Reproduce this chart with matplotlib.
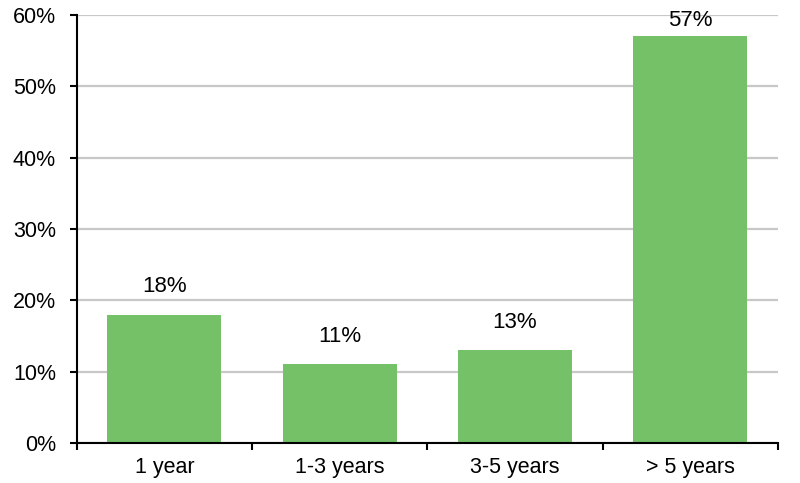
import matplotlib.pyplot as plt
from matplotlib.ticker import FixedLocator, PercentFormatter

categories = ['1 year', '1-3 years', '3-5 years', '> 5 years']
values = [18, 11, 13, 57]

plt.rcParams['font.family'] = ['Liberation Sans Narrow', 'Liberation Sans', 'DejaVu Sans']

fig = plt.figure(figsize=(8, 4.83), dpi=100)
ax = fig.add_axes([0.096, 0.083, 0.8765, 0.886])

x = range(len(categories))
bars = ax.bar(x, values, width=0.65, color='#75c168', zorder=3)

# labels sit above the bars, but are kept inside the plot area like Excel does
for xi, v in zip(x, values):
    ax.text(xi, min(v + 2.4, 57.7), f'{v}%', ha='center', va='bottom',
            fontsize=16, zorder=5)

ax.set_xlim(-0.5, len(categories) - 0.5)
ax.set_ylim(0, 60)
ax.set_yticks(range(0, 61, 10))
ax.yaxis.set_major_formatter(PercentFormatter(decimals=0))
ax.grid(axis='y', color='#c8c8c8', linewidth=1.6, zorder=0)

ax.set_xticks(list(x))
ax.set_xticklabels(categories)
ax.xaxis.set_minor_locator(FixedLocator([i - 0.5 for i in range(len(categories) + 1)]))
ax.tick_params(axis='x', which='major', length=0, labelsize=15.5, pad=10)
ax.tick_params(axis='x', which='minor', length=5, width=1.5, direction='out')
ax.tick_params(axis='y', length=5, width=1.5, direction='out', labelsize=15.5, pad=10)

for side in ['top', 'right']:
    ax.spines[side].set_visible(False)
for side in ['left', 'bottom']:
    ax.spines[side].set_linewidth(1.5)
    ax.spines[side].set_zorder(4)

fig.savefig('out.png', dpi=100)
